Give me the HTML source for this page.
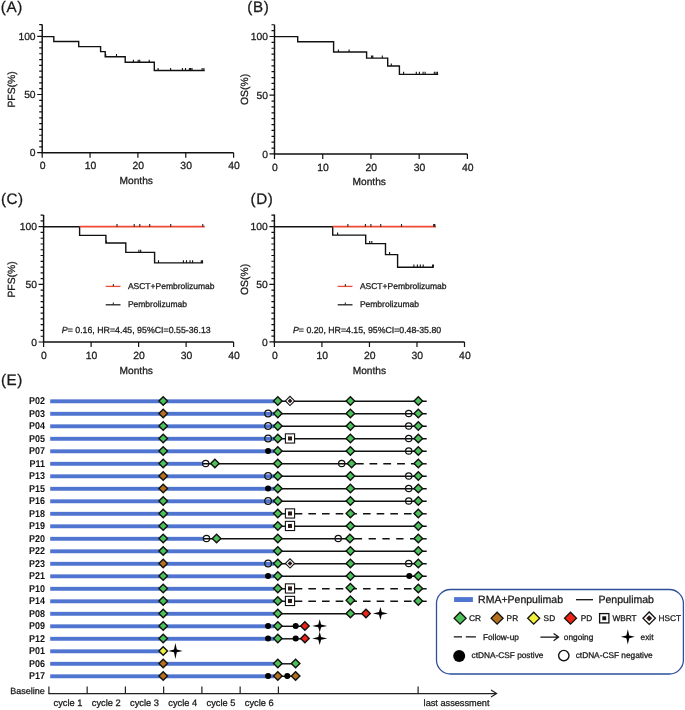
<!DOCTYPE html><html><head><meta charset="utf-8"><style>html,body{margin:0;padding:0;background:#fff;}svg{display:block;will-change:transform}</style></head><body>
<svg width="685" height="710" viewBox="0 0 685 710" font-family="Liberation Sans, sans-serif" fill="#1a1a1a" text-rendering="geometricPrecision"><style>text{stroke:#1a1a1a;stroke-width:0.28px}</style>
<rect width="685" height="710" fill="#fff"/>
<path d="M42.2 24.5V152.7H233.6" fill="none" stroke="#111" stroke-width="1.45"/><path d="M37.2 152.7H42.2M39.2 146.88H42.2M39.2 141.06H42.2M39.2 135.24H42.2M39.2 129.42H42.2M39.2 123.6H42.2M39.2 117.78H42.2M39.2 111.96H42.2M39.2 106.14H42.2M39.2 100.32H42.2M37.2 94.5H42.2M39.2 88.68H42.2M39.2 82.86H42.2M39.2 77.04H42.2M39.2 71.22H42.2M39.2 65.4H42.2M39.2 59.58H42.2M39.2 53.76H42.2M39.2 47.94H42.2M39.2 42.12H42.2M37.2 36.3H42.2M39.2 30.48H42.2M39.2 24.66H42.2M42.2 152.7V157.7M90.05 152.7V157.7M137.9 152.7V157.7M185.75 152.7V157.7M233.6 152.7V157.7" stroke="#111" stroke-width="1.2"/><text x="35.6" y="156.3" text-anchor="end" font-size="10.3">0</text><text x="35.6" y="98.1" text-anchor="end" font-size="10.3">50</text><text x="35.6" y="39.9" text-anchor="end" font-size="10.3">100</text><text x="42.6" y="169.3" text-anchor="middle" font-size="10.4">0</text><text x="90.45" y="169.3" text-anchor="middle" font-size="10.4">10</text><text x="138.3" y="169.3" text-anchor="middle" font-size="10.4">20</text><text x="186.15" y="169.3" text-anchor="middle" font-size="10.4">30</text><text x="234" y="169.3" text-anchor="middle" font-size="10.4">40</text><text x="0.8" y="11.8" font-size="15.2" letter-spacing="0.6">(A)</text><text transform="translate(14.5 89.4) rotate(-90)" text-anchor="middle" font-size="10.4">PFS(%)</text><text x="136.2" y="183.6" text-anchor="middle" font-size="10.2">Months</text>
<path d="M42.2 36.6L53.8 36.6L53.8 41.5L78.7 41.5L78.7 46.6L100.6 46.6L100.6 51.6L105.2 51.6L105.2 56.7L125.2 56.7L125.2 62.3L154.3 62.3L154.3 70.5L204.7 70.5" fill="none" stroke="#111" stroke-width="1.4"/>
<path d="M105.7 56.7V54.1M116.5 56.7V54.1M133.4 62.3V59.7M138.2 62.3V59.7M139.7 62.3V59.7M149.2 62.3V59.7M158.1 70.5V67.9M170.6 70.5V67.9M182.4 70.5V67.9M185.5 70.5V67.9M189.4 70.5V67.9M190.6 70.5V67.9M192 70.5V67.9M202.1 70.5V67.9M203.9 70.5V67.9" stroke="#111" stroke-width="1.1"/>
<path d="M274.5 24.8V153.9H467.4" fill="none" stroke="#111" stroke-width="1.45"/><path d="M269.5 153.9H274.5M271.5 148.03H274.5M271.5 142.16H274.5M271.5 136.29H274.5M271.5 130.42H274.5M271.5 124.55H274.5M271.5 118.68H274.5M271.5 112.81H274.5M271.5 106.94H274.5M271.5 101.07H274.5M269.5 95.2H274.5M271.5 89.33H274.5M271.5 83.46H274.5M271.5 77.59H274.5M271.5 71.72H274.5M271.5 65.85H274.5M271.5 59.98H274.5M271.5 54.11H274.5M271.5 48.24H274.5M271.5 42.37H274.5M269.5 36.5H274.5M271.5 30.63H274.5M271.5 24.76H274.5M274.5 153.9V158.9M322.73 153.9V158.9M370.95 153.9V158.9M419.17 153.9V158.9M467.4 153.9V158.9" stroke="#111" stroke-width="1.2"/><text x="267.9" y="157.5" text-anchor="end" font-size="10.3">0</text><text x="267.9" y="98.8" text-anchor="end" font-size="10.3">50</text><text x="267.9" y="40.1" text-anchor="end" font-size="10.3">100</text><text x="274.9" y="170.5" text-anchor="middle" font-size="10.4">0</text><text x="323.12" y="170.5" text-anchor="middle" font-size="10.4">10</text><text x="371.35" y="170.5" text-anchor="middle" font-size="10.4">20</text><text x="419.57" y="170.5" text-anchor="middle" font-size="10.4">30</text><text x="467.8" y="170.5" text-anchor="middle" font-size="10.4">40</text><text x="247.3" y="11.7" font-size="15.2" letter-spacing="0.6">(B)</text><text transform="translate(248.3 89.4) rotate(-90)" text-anchor="middle" font-size="10.4">OS(%)</text><text x="369.2" y="185.3" text-anchor="middle" font-size="10.2">Months</text>
<path d="M274.5 36.6L297.7 36.6L297.7 41.7L333.6 41.7L333.6 52L366.6 52L366.6 58.1L387.7 58.1L387.7 66L399.4 66L399.4 74.4L438.2 74.4" fill="none" stroke="#111" stroke-width="1.4"/>
<path d="M338.4 52V49.4M349.1 52V49.4M371.6 58.1V55.5M372.8 58.1V55.5M382.3 58.1V55.5M391.3 66V63.4M403.6 74.4V71.8M416.3 74.4V71.8M419.4 74.4V71.8M423.1 74.4V71.8M425.1 74.4V71.8M434.3 74.4V71.8M436 74.4V71.8M437.4 74.4V71.8" stroke="#111" stroke-width="1.1"/>
<path d="M43.6 215V342H233.6" fill="none" stroke="#111" stroke-width="1.45"/><path d="M38.6 342H43.6M40.6 336.24H43.6M40.6 330.47H43.6M40.6 324.7H43.6M40.6 318.94H43.6M40.6 313.18H43.6M40.6 307.41H43.6M40.6 301.64H43.6M40.6 295.88H43.6M40.6 290.12H43.6M38.6 284.35H43.6M40.6 278.58H43.6M40.6 272.82H43.6M40.6 267.06H43.6M40.6 261.29H43.6M40.6 255.52H43.6M40.6 249.76H43.6M40.6 244H43.6M40.6 238.23H43.6M40.6 232.47H43.6M38.6 226.7H43.6M40.6 220.94H43.6M40.6 215.17H43.6M43.6 342V347M91.1 342V347M138.6 342V347M186.1 342V347M233.6 342V347" stroke="#111" stroke-width="1.2"/><text x="37" y="345.6" text-anchor="end" font-size="10.3">0</text><text x="37" y="287.95" text-anchor="end" font-size="10.3">50</text><text x="37" y="230.3" text-anchor="end" font-size="10.3">100</text><text x="44" y="358.6" text-anchor="middle" font-size="10.4">0</text><text x="91.5" y="358.6" text-anchor="middle" font-size="10.4">10</text><text x="139" y="358.6" text-anchor="middle" font-size="10.4">20</text><text x="186.5" y="358.6" text-anchor="middle" font-size="10.4">30</text><text x="234" y="358.6" text-anchor="middle" font-size="10.4">40</text><text x="0.9" y="204" font-size="15.2" letter-spacing="0.6">(C)</text><text transform="translate(14.5 279.4) rotate(-90)" text-anchor="middle" font-size="10.4">PFS(%)</text><text x="136.2" y="373.8" text-anchor="middle" font-size="10.2">Months</text>
<path d="M43.6 226.7L79.6 226.7L79.6 235.4L105.9 235.4L105.9 243L125.8 243L125.8 252.4L154.6 252.4L154.6 262.9L203.1 262.9" fill="none" stroke="#111" stroke-width="1.4"/>
<path d="M79.6 226.7H204.8" stroke="#ee4a36" stroke-width="1.7"/>
<path d="M117 226.7V224.1M134.2 226.7V224.1M139.8 226.7V224.1M149.7 226.7V224.1M170.7 226.7V224.1M202.8 226.7V224.1" stroke="#222" stroke-width="1.1"/>
<path d="M106.4 243V240.4M138.9 252.4V249.8M140.7 252.4V249.8M158.5 262.9V260.3M183.4 262.9V260.3M186.5 262.9V260.3M190 262.9V260.3M192.6 262.9V260.3M201.3 262.9V260.3M202.5 262.9V260.3" stroke="#111" stroke-width="1.1"/>
<path d="M105.7 286.4H120.5" stroke="#ee4a36" stroke-width="1.3"/><path d="M113.3 286.4V284" stroke="#222" stroke-width="1"/>
<path d="M105.7 304.8H120.5" stroke="#222" stroke-width="1.3"/><path d="M113.3 304.8V302.4" stroke="#222" stroke-width="1"/>
<text x="127.9" y="288.6" font-size="8.5">ASCT+Pembrolizumab</text>
<text x="127.9" y="307.4" font-size="8.5">Pembrolizumab</text>
<text x="61.8" y="333.0" font-size="8.8"><tspan font-style="italic">P</tspan>= 0.16, HR=4.45, 95%CI=0.55-36.13</text>
<path d="M274.4 214.5V341.9H464.5" fill="none" stroke="#111" stroke-width="1.45"/><path d="M269.4 341.9H274.4M271.4 336.14H274.4M271.4 330.38H274.4M271.4 324.62H274.4M271.4 318.86H274.4M271.4 313.1H274.4M271.4 307.34H274.4M271.4 301.58H274.4M271.4 295.82H274.4M271.4 290.06H274.4M269.4 284.3H274.4M271.4 278.54H274.4M271.4 272.78H274.4M271.4 267.02H274.4M271.4 261.26H274.4M271.4 255.5H274.4M271.4 249.74H274.4M271.4 243.98H274.4M271.4 238.22H274.4M271.4 232.46H274.4M269.4 226.7H274.4M271.4 220.94H274.4M271.4 215.18H274.4M274.4 341.9V346.9M321.92 341.9V346.9M369.45 341.9V346.9M416.98 341.9V346.9M464.5 341.9V346.9" stroke="#111" stroke-width="1.2"/><text x="267.8" y="345.5" text-anchor="end" font-size="10.3">0</text><text x="267.8" y="287.9" text-anchor="end" font-size="10.3">50</text><text x="267.8" y="230.3" text-anchor="end" font-size="10.3">100</text><text x="274.8" y="358.5" text-anchor="middle" font-size="10.4">0</text><text x="322.32" y="358.5" text-anchor="middle" font-size="10.4">10</text><text x="369.85" y="358.5" text-anchor="middle" font-size="10.4">20</text><text x="417.38" y="358.5" text-anchor="middle" font-size="10.4">30</text><text x="464.9" y="358.5" text-anchor="middle" font-size="10.4">40</text><text x="250.5" y="203.7" font-size="15.2" letter-spacing="0.6">(D)</text><text transform="translate(248.3 279.4) rotate(-90)" text-anchor="middle" font-size="10.4">OS(%)</text><text x="369.4" y="373.8" text-anchor="middle" font-size="10.2">Months</text>
<path d="M274.4 226.7L332.7 226.7L332.7 235.1L365.7 235.1L365.7 243.6L385.5 243.6L385.5 254.6L397.6 254.6L397.6 267.2L433.7 267.2" fill="none" stroke="#111" stroke-width="1.4"/>
<path d="M332.7 226.7H436" stroke="#ee4a36" stroke-width="1.7"/>
<path d="M347.9 226.7V224.1M365.4 226.7V224.1M370.9 226.7V224.1M380.7 226.7V224.1M401.5 226.7V224.1M433.7 226.7V224.1M434.8 226.7V224.1" stroke="#222" stroke-width="1.1"/>
<path d="M337.6 235.1V232.5M369.7 243.6V241M371.8 243.6V241M389.6 254.6V252M413.9 267.2V264.6M417.4 267.2V264.6M420.3 267.2V264.6M423.2 267.2V264.6M432.6 267.2V264.6M433.4 267.2V264.6" stroke="#111" stroke-width="1.1"/>
<path d="M337.7 286.4H352.5" stroke="#ee4a36" stroke-width="1.3"/><path d="M345.3 286.4V284" stroke="#222" stroke-width="1"/>
<path d="M337.7 304.8H352.5" stroke="#222" stroke-width="1.3"/><path d="M345.3 304.8V302.4" stroke="#222" stroke-width="1"/>
<text x="359.9" y="288.6" font-size="8.5">ASCT+Pembrolizumab</text>
<text x="359.9" y="307.4" font-size="8.5">Pembrolizumab</text>
<text x="293.0" y="333.0" font-size="8.75"><tspan font-style="italic">P</tspan>= 0.20, HR=4.15, 95%CI=0.48-35.80</text>
<text x="0.9" y="384.6" font-size="15.2" letter-spacing="0.6">(E)</text>
<text transform="translate(45.1 404.4) scale(0.91 1)" text-anchor="end" font-size="9.9" font-weight="bold" fill="#111" style="stroke:none">P02</text><text transform="translate(45.1 416.9) scale(0.91 1)" text-anchor="end" font-size="9.9" font-weight="bold" fill="#111" style="stroke:none">P03</text><text transform="translate(45.1 429.4) scale(0.91 1)" text-anchor="end" font-size="9.9" font-weight="bold" fill="#111" style="stroke:none">P04</text><text transform="translate(45.1 441.9) scale(0.91 1)" text-anchor="end" font-size="9.9" font-weight="bold" fill="#111" style="stroke:none">P05</text><text transform="translate(45.1 454.4) scale(0.91 1)" text-anchor="end" font-size="9.9" font-weight="bold" fill="#111" style="stroke:none">P07</text><text transform="translate(45.1 466.9) scale(0.91 1)" text-anchor="end" font-size="9.9" font-weight="bold" fill="#111" style="stroke:none">P11</text><text transform="translate(45.1 479.4) scale(0.91 1)" text-anchor="end" font-size="9.9" font-weight="bold" fill="#111" style="stroke:none">P13</text><text transform="translate(45.1 491.9) scale(0.91 1)" text-anchor="end" font-size="9.9" font-weight="bold" fill="#111" style="stroke:none">P15</text><text transform="translate(45.1 504.4) scale(0.91 1)" text-anchor="end" font-size="9.9" font-weight="bold" fill="#111" style="stroke:none">P16</text><text transform="translate(45.1 516.9) scale(0.91 1)" text-anchor="end" font-size="9.9" font-weight="bold" fill="#111" style="stroke:none">P18</text><text transform="translate(45.1 529.4) scale(0.91 1)" text-anchor="end" font-size="9.9" font-weight="bold" fill="#111" style="stroke:none">P19</text><text transform="translate(45.1 541.9) scale(0.91 1)" text-anchor="end" font-size="9.9" font-weight="bold" fill="#111" style="stroke:none">P20</text><text transform="translate(45.1 554.4) scale(0.91 1)" text-anchor="end" font-size="9.9" font-weight="bold" fill="#111" style="stroke:none">P22</text><text transform="translate(45.1 566.9) scale(0.91 1)" text-anchor="end" font-size="9.9" font-weight="bold" fill="#111" style="stroke:none">P23</text><text transform="translate(45.1 579.4) scale(0.91 1)" text-anchor="end" font-size="9.9" font-weight="bold" fill="#111" style="stroke:none">P21</text><text transform="translate(45.1 591.9) scale(0.91 1)" text-anchor="end" font-size="9.9" font-weight="bold" fill="#111" style="stroke:none">P10</text><text transform="translate(45.1 604.4) scale(0.91 1)" text-anchor="end" font-size="9.9" font-weight="bold" fill="#111" style="stroke:none">P14</text><text transform="translate(45.1 616.9) scale(0.91 1)" text-anchor="end" font-size="9.9" font-weight="bold" fill="#111" style="stroke:none">P08</text><text transform="translate(45.1 629.4) scale(0.91 1)" text-anchor="end" font-size="9.9" font-weight="bold" fill="#111" style="stroke:none">P09</text><text transform="translate(45.1 641.9) scale(0.91 1)" text-anchor="end" font-size="9.9" font-weight="bold" fill="#111" style="stroke:none">P12</text><text transform="translate(45.1 654.4) scale(0.91 1)" text-anchor="end" font-size="9.9" font-weight="bold" fill="#111" style="stroke:none">P01</text><text transform="translate(45.1 666.9) scale(0.91 1)" text-anchor="end" font-size="9.9" font-weight="bold" fill="#111" style="stroke:none">P06</text><text transform="translate(45.1 679.4) scale(0.91 1)" text-anchor="end" font-size="9.9" font-weight="bold" fill="#111" style="stroke:none">P17</text>
<rect x="50.2" y="399.35" width="223.8" height="3.9" fill="#4f75d0"/><path d="M274 401.3H426.7" stroke="#111" stroke-width="1.45"/><rect x="50.2" y="411.85" width="223.8" height="3.9" fill="#4f75d0"/><path d="M274 413.8H426.7" stroke="#111" stroke-width="1.45"/><rect x="50.2" y="424.35" width="223.8" height="3.9" fill="#4f75d0"/><path d="M274 426.3H426.7" stroke="#111" stroke-width="1.45"/><rect x="50.2" y="436.85" width="223.8" height="3.9" fill="#4f75d0"/><path d="M274 438.8H426.7" stroke="#111" stroke-width="1.45"/><rect x="50.2" y="449.35" width="223.8" height="3.9" fill="#4f75d0"/><path d="M274 451.3H426.7" stroke="#111" stroke-width="1.45"/><rect x="50.2" y="461.85" width="152.8" height="3.9" fill="#4f75d0"/><path d="M203 463.8H363.7" stroke="#111" stroke-width="1.45"/><path d="M369.5 463.8H377.3M383.3 463.8H391.1M397.1 463.8H404.9M410.9 463.8H414" stroke="#111" stroke-width="1.45"/><path d="M414 463.8H426.7" stroke="#111" stroke-width="1.45"/><rect x="50.2" y="474.35" width="223.8" height="3.9" fill="#4f75d0"/><path d="M274 476.3H426.7" stroke="#111" stroke-width="1.45"/><rect x="50.2" y="486.85" width="223.8" height="3.9" fill="#4f75d0"/><path d="M274 488.8H426.7" stroke="#111" stroke-width="1.45"/><rect x="50.2" y="499.35" width="223.8" height="3.9" fill="#4f75d0"/><path d="M274 501.3H426.7" stroke="#111" stroke-width="1.45"/><rect x="50.2" y="511.85" width="223.8" height="3.9" fill="#4f75d0"/><path d="M274 513.8H290" stroke="#111" stroke-width="1.45"/><path d="M294.7 513.8H302.3M308.36 513.8H315.96M322.02 513.8H329.62M335.68 513.8H343.28M349.34 513.8H356.94M363 513.8H370.6M376.66 513.8H384.26M390.32 513.8H397.92M403.98 513.8H411.58" stroke="#111" stroke-width="1.45"/><path d="M414 513.8H426.7" stroke="#111" stroke-width="1.45"/><rect x="50.2" y="524.35" width="223.8" height="3.9" fill="#4f75d0"/><path d="M274 526.3H290" stroke="#111" stroke-width="1.45"/><path d="M290 526.3H426.7" stroke="#111" stroke-width="1.45"/><rect x="50.2" y="536.85" width="153.8" height="3.9" fill="#4f75d0"/><path d="M204 538.8H362.1" stroke="#111" stroke-width="1.45"/><path d="M368.6 538.8H375.9M382.4 538.8H389.7M396.2 538.8H403.5M410 538.8H414" stroke="#111" stroke-width="1.45"/><path d="M414 538.8H426.7" stroke="#111" stroke-width="1.45"/><rect x="50.2" y="549.35" width="223.8" height="3.9" fill="#4f75d0"/><path d="M274 551.3H426.7" stroke="#111" stroke-width="1.45"/><rect x="50.2" y="561.85" width="223.8" height="3.9" fill="#4f75d0"/><path d="M274 563.8H426.7" stroke="#111" stroke-width="1.45"/><rect x="50.2" y="574.35" width="223.8" height="3.9" fill="#4f75d0"/><path d="M274 576.3H426.7" stroke="#111" stroke-width="1.45"/><rect x="50.2" y="586.85" width="223.8" height="3.9" fill="#4f75d0"/><path d="M274 588.8H290" stroke="#111" stroke-width="1.45"/><path d="M294.7 588.8H302.3M308.36 588.8H315.96M322.02 588.8H329.62M335.68 588.8H343.28M349.34 588.8H356.94M363 588.8H370.6M376.66 588.8H384.26M390.32 588.8H397.92M403.98 588.8H411.58" stroke="#111" stroke-width="1.45"/><path d="M414 588.8H426.7" stroke="#111" stroke-width="1.45"/><rect x="50.2" y="599.35" width="223.8" height="3.9" fill="#4f75d0"/><path d="M274 601.3H290" stroke="#111" stroke-width="1.45"/><path d="M294.7 601.3H302.3M308.36 601.3H315.96M322.02 601.3H329.62M335.68 601.3H343.28M349.34 601.3H356.94M363 601.3H370.6M376.66 601.3H384.26M390.32 601.3H397.92M403.98 601.3H411.58" stroke="#111" stroke-width="1.45"/><path d="M414 601.3H426.7" stroke="#111" stroke-width="1.45"/><rect x="50.2" y="611.85" width="223.8" height="3.9" fill="#4f75d0"/><path d="M274 613.8H366" stroke="#111" stroke-width="1.45"/><rect x="50.2" y="624.35" width="223.8" height="3.9" fill="#4f75d0"/><path d="M274 626.3H305" stroke="#111" stroke-width="1.45"/><rect x="50.2" y="636.85" width="223.8" height="3.9" fill="#4f75d0"/><path d="M274 638.8H305" stroke="#111" stroke-width="1.45"/><rect x="50.2" y="649.35" width="114.8" height="3.9" fill="#4f75d0"/><rect x="50.2" y="661.85" width="223.8" height="3.9" fill="#4f75d0"/><path d="M274 663.8H295.6" stroke="#111" stroke-width="1.45"/><rect x="50.2" y="674.35" width="223.8" height="3.9" fill="#4f75d0"/><path d="M274 676.3H295.6" stroke="#111" stroke-width="1.45"/>
<path d="M158.9 400.95l4.3 -4.3l4.3 4.3l-4.3 4.3z" fill="#4cc15a" stroke="#111" stroke-width="1.4" stroke-linejoin="miter"/><path d="M158.9 413.45l4.3 -4.3l4.3 4.3l-4.3 4.3z" fill="#b5701f" stroke="#111" stroke-width="1.4" stroke-linejoin="miter"/><path d="M158.9 425.95l4.3 -4.3l4.3 4.3l-4.3 4.3z" fill="#4cc15a" stroke="#111" stroke-width="1.4" stroke-linejoin="miter"/><path d="M158.9 438.45l4.3 -4.3l4.3 4.3l-4.3 4.3z" fill="#4cc15a" stroke="#111" stroke-width="1.4" stroke-linejoin="miter"/><path d="M158.9 450.95l4.3 -4.3l4.3 4.3l-4.3 4.3z" fill="#4cc15a" stroke="#111" stroke-width="1.4" stroke-linejoin="miter"/><path d="M158.9 463.45l4.3 -4.3l4.3 4.3l-4.3 4.3z" fill="#4cc15a" stroke="#111" stroke-width="1.4" stroke-linejoin="miter"/><path d="M158.9 475.95l4.3 -4.3l4.3 4.3l-4.3 4.3z" fill="#b5701f" stroke="#111" stroke-width="1.4" stroke-linejoin="miter"/><path d="M158.9 488.45l4.3 -4.3l4.3 4.3l-4.3 4.3z" fill="#b5701f" stroke="#111" stroke-width="1.4" stroke-linejoin="miter"/><path d="M158.9 500.95l4.3 -4.3l4.3 4.3l-4.3 4.3z" fill="#4cc15a" stroke="#111" stroke-width="1.4" stroke-linejoin="miter"/><path d="M158.9 513.45l4.3 -4.3l4.3 4.3l-4.3 4.3z" fill="#4cc15a" stroke="#111" stroke-width="1.4" stroke-linejoin="miter"/><path d="M158.9 525.95l4.3 -4.3l4.3 4.3l-4.3 4.3z" fill="#4cc15a" stroke="#111" stroke-width="1.4" stroke-linejoin="miter"/><path d="M158.9 538.45l4.3 -4.3l4.3 4.3l-4.3 4.3z" fill="#4cc15a" stroke="#111" stroke-width="1.4" stroke-linejoin="miter"/><path d="M158.9 550.95l4.3 -4.3l4.3 4.3l-4.3 4.3z" fill="#4cc15a" stroke="#111" stroke-width="1.4" stroke-linejoin="miter"/><path d="M158.9 563.45l4.3 -4.3l4.3 4.3l-4.3 4.3z" fill="#b5701f" stroke="#111" stroke-width="1.4" stroke-linejoin="miter"/><path d="M158.9 575.95l4.3 -4.3l4.3 4.3l-4.3 4.3z" fill="#4cc15a" stroke="#111" stroke-width="1.4" stroke-linejoin="miter"/><path d="M158.9 588.45l4.3 -4.3l4.3 4.3l-4.3 4.3z" fill="#4cc15a" stroke="#111" stroke-width="1.4" stroke-linejoin="miter"/><path d="M158.9 600.95l4.3 -4.3l4.3 4.3l-4.3 4.3z" fill="#4cc15a" stroke="#111" stroke-width="1.4" stroke-linejoin="miter"/><path d="M158.9 613.45l4.3 -4.3l4.3 4.3l-4.3 4.3z" fill="#4cc15a" stroke="#111" stroke-width="1.4" stroke-linejoin="miter"/><path d="M158.9 625.95l4.3 -4.3l4.3 4.3l-4.3 4.3z" fill="#4cc15a" stroke="#111" stroke-width="1.4" stroke-linejoin="miter"/><path d="M158.9 638.45l4.3 -4.3l4.3 4.3l-4.3 4.3z" fill="#4cc15a" stroke="#111" stroke-width="1.4" stroke-linejoin="miter"/><path d="M158.9 650.95l4.3 -4.3l4.3 4.3l-4.3 4.3z" fill="#f2f03c" stroke="#111" stroke-width="1.4" stroke-linejoin="miter"/><path d="M158.9 663.45l4.3 -4.3l4.3 4.3l-4.3 4.3z" fill="#b5701f" stroke="#111" stroke-width="1.4" stroke-linejoin="miter"/><path d="M158.9 675.95l4.3 -4.3l4.3 4.3l-4.3 4.3z" fill="#b5701f" stroke="#111" stroke-width="1.4" stroke-linejoin="miter"/>
<circle cx="268.1" cy="413.45" r="3.35" fill="none" stroke="#111" stroke-width="1.2"/><circle cx="268.1" cy="425.95" r="3.35" fill="none" stroke="#111" stroke-width="1.2"/><circle cx="268.1" cy="438.45" r="3.35" fill="none" stroke="#111" stroke-width="1.2"/><circle cx="268.1" cy="475.95" r="3.35" fill="none" stroke="#111" stroke-width="1.2"/><circle cx="268.1" cy="500.95" r="3.35" fill="none" stroke="#111" stroke-width="1.2"/><circle cx="268.1" cy="563.45" r="3.35" fill="none" stroke="#111" stroke-width="1.2"/><circle cx="268.1" cy="450.95" r="3.05" fill="#000"/><circle cx="268.1" cy="488.45" r="3.05" fill="#000"/><circle cx="268.1" cy="575.95" r="3.05" fill="#000"/><circle cx="268.1" cy="625.95" r="3.05" fill="#000"/><circle cx="268.1" cy="638.45" r="3.05" fill="#000"/><circle cx="268.1" cy="675.95" r="3.05" fill="#000"/><path d="M273.5 400.95l4.3 -4.3l4.3 4.3l-4.3 4.3z" fill="#4cc15a" stroke="#111" stroke-width="1.4" stroke-linejoin="miter"/><path d="M285.4 400.95l4.6 -4.6l4.6 4.6l-4.6 4.6z" fill="#fff" stroke="#111" stroke-width="1.1" stroke-linejoin="miter"/><path d="M287.6 400.95l2.4 -2.4l2.4 2.4l-2.4 2.4z" fill="#2a1a18"/><path d="M346.1 400.95l4.3 -4.3l4.3 4.3l-4.3 4.3z" fill="#4cc15a" stroke="#111" stroke-width="1.4" stroke-linejoin="miter"/><path d="M414 400.95l4.3 -4.3l4.3 4.3l-4.3 4.3z" fill="#4cc15a" stroke="#111" stroke-width="1.4" stroke-linejoin="miter"/><path d="M273.5 413.45l4.3 -4.3l4.3 4.3l-4.3 4.3z" fill="#4cc15a" stroke="#111" stroke-width="1.4" stroke-linejoin="miter"/><path d="M346.1 413.45l4.3 -4.3l4.3 4.3l-4.3 4.3z" fill="#4cc15a" stroke="#111" stroke-width="1.4" stroke-linejoin="miter"/><circle cx="408.7" cy="413.45" r="3.15" fill="none" stroke="#111" stroke-width="1.2"/><path d="M414 413.45l4.3 -4.3l4.3 4.3l-4.3 4.3z" fill="#4cc15a" stroke="#111" stroke-width="1.4" stroke-linejoin="miter"/><path d="M273.5 425.95l4.3 -4.3l4.3 4.3l-4.3 4.3z" fill="#4cc15a" stroke="#111" stroke-width="1.4" stroke-linejoin="miter"/><path d="M346.1 425.95l4.3 -4.3l4.3 4.3l-4.3 4.3z" fill="#4cc15a" stroke="#111" stroke-width="1.4" stroke-linejoin="miter"/><circle cx="408.7" cy="425.95" r="3.15" fill="none" stroke="#111" stroke-width="1.2"/><path d="M414 425.95l4.3 -4.3l4.3 4.3l-4.3 4.3z" fill="#4cc15a" stroke="#111" stroke-width="1.4" stroke-linejoin="miter"/><path d="M273.5 438.45l4.3 -4.3l4.3 4.3l-4.3 4.3z" fill="#4cc15a" stroke="#111" stroke-width="1.4" stroke-linejoin="miter"/><rect x="285.4" y="433.85" width="9.2" height="9.2" fill="#fff" stroke="#111" stroke-width="1.1"/><rect x="288" y="436.45" width="4" height="4" fill="#2a1a18"/><path d="M346.1 438.45l4.3 -4.3l4.3 4.3l-4.3 4.3z" fill="#4cc15a" stroke="#111" stroke-width="1.4" stroke-linejoin="miter"/><circle cx="408.7" cy="438.45" r="3.15" fill="none" stroke="#111" stroke-width="1.2"/><path d="M414 438.45l4.3 -4.3l4.3 4.3l-4.3 4.3z" fill="#4cc15a" stroke="#111" stroke-width="1.4" stroke-linejoin="miter"/><path d="M273.5 450.95l4.3 -4.3l4.3 4.3l-4.3 4.3z" fill="#4cc15a" stroke="#111" stroke-width="1.4" stroke-linejoin="miter"/><path d="M346.1 450.95l4.3 -4.3l4.3 4.3l-4.3 4.3z" fill="#4cc15a" stroke="#111" stroke-width="1.4" stroke-linejoin="miter"/><circle cx="408.7" cy="450.95" r="3.15" fill="none" stroke="#111" stroke-width="1.2"/><path d="M414 450.95l4.3 -4.3l4.3 4.3l-4.3 4.3z" fill="#4cc15a" stroke="#111" stroke-width="1.4" stroke-linejoin="miter"/><circle cx="205.7" cy="463.45" r="3.15" fill="none" stroke="#111" stroke-width="1.2"/><path d="M210.6 463.45l4.3 -4.3l4.3 4.3l-4.3 4.3z" fill="#4cc15a" stroke="#111" stroke-width="1.4" stroke-linejoin="miter"/><path d="M273.5 463.45l4.3 -4.3l4.3 4.3l-4.3 4.3z" fill="#4cc15a" stroke="#111" stroke-width="1.4" stroke-linejoin="miter"/><circle cx="341.7" cy="463.45" r="3.15" fill="none" stroke="#111" stroke-width="1.2"/><path d="M347.3 463.45l4.3 -4.3l4.3 4.3l-4.3 4.3z" fill="#4cc15a" stroke="#111" stroke-width="1.4" stroke-linejoin="miter"/><path d="M414 463.45l4.3 -4.3l4.3 4.3l-4.3 4.3z" fill="#4cc15a" stroke="#111" stroke-width="1.4" stroke-linejoin="miter"/><path d="M273.5 475.95l4.3 -4.3l4.3 4.3l-4.3 4.3z" fill="#4cc15a" stroke="#111" stroke-width="1.4" stroke-linejoin="miter"/><path d="M346.1 475.95l4.3 -4.3l4.3 4.3l-4.3 4.3z" fill="#4cc15a" stroke="#111" stroke-width="1.4" stroke-linejoin="miter"/><circle cx="408.7" cy="475.95" r="3.15" fill="none" stroke="#111" stroke-width="1.2"/><path d="M414 475.95l4.3 -4.3l4.3 4.3l-4.3 4.3z" fill="#4cc15a" stroke="#111" stroke-width="1.4" stroke-linejoin="miter"/><path d="M273.5 488.45l4.3 -4.3l4.3 4.3l-4.3 4.3z" fill="#4cc15a" stroke="#111" stroke-width="1.4" stroke-linejoin="miter"/><path d="M346.1 488.45l4.3 -4.3l4.3 4.3l-4.3 4.3z" fill="#4cc15a" stroke="#111" stroke-width="1.4" stroke-linejoin="miter"/><circle cx="408.7" cy="488.45" r="3.15" fill="none" stroke="#111" stroke-width="1.2"/><path d="M414 488.45l4.3 -4.3l4.3 4.3l-4.3 4.3z" fill="#4cc15a" stroke="#111" stroke-width="1.4" stroke-linejoin="miter"/><path d="M273.5 500.95l4.3 -4.3l4.3 4.3l-4.3 4.3z" fill="#4cc15a" stroke="#111" stroke-width="1.4" stroke-linejoin="miter"/><path d="M346.1 500.95l4.3 -4.3l4.3 4.3l-4.3 4.3z" fill="#4cc15a" stroke="#111" stroke-width="1.4" stroke-linejoin="miter"/><circle cx="408.7" cy="500.95" r="3.15" fill="none" stroke="#111" stroke-width="1.2"/><path d="M414 500.95l4.3 -4.3l4.3 4.3l-4.3 4.3z" fill="#4cc15a" stroke="#111" stroke-width="1.4" stroke-linejoin="miter"/><path d="M273.5 513.45l4.3 -4.3l4.3 4.3l-4.3 4.3z" fill="#4cc15a" stroke="#111" stroke-width="1.4" stroke-linejoin="miter"/><rect x="285.4" y="508.85" width="9.2" height="9.2" fill="#fff" stroke="#111" stroke-width="1.1"/><rect x="288" y="511.45" width="4" height="4" fill="#2a1a18"/><path d="M346.1 513.45l4.3 -4.3l4.3 4.3l-4.3 4.3z" fill="#4cc15a" stroke="#111" stroke-width="1.4" stroke-linejoin="miter"/><path d="M414 513.45l4.3 -4.3l4.3 4.3l-4.3 4.3z" fill="#4cc15a" stroke="#111" stroke-width="1.4" stroke-linejoin="miter"/><path d="M273.5 525.95l4.3 -4.3l4.3 4.3l-4.3 4.3z" fill="#4cc15a" stroke="#111" stroke-width="1.4" stroke-linejoin="miter"/><rect x="285.4" y="521.35" width="9.2" height="9.2" fill="#fff" stroke="#111" stroke-width="1.1"/><rect x="288" y="523.95" width="4" height="4" fill="#2a1a18"/><path d="M346.1 525.95l4.3 -4.3l4.3 4.3l-4.3 4.3z" fill="#4cc15a" stroke="#111" stroke-width="1.4" stroke-linejoin="miter"/><path d="M414 525.95l4.3 -4.3l4.3 4.3l-4.3 4.3z" fill="#4cc15a" stroke="#111" stroke-width="1.4" stroke-linejoin="miter"/><circle cx="206.5" cy="538.45" r="3.15" fill="none" stroke="#111" stroke-width="1.2"/><path d="M212.3 538.45l4.3 -4.3l4.3 4.3l-4.3 4.3z" fill="#4cc15a" stroke="#111" stroke-width="1.4" stroke-linejoin="miter"/><path d="M273.5 538.45l4.3 -4.3l4.3 4.3l-4.3 4.3z" fill="#4cc15a" stroke="#111" stroke-width="1.4" stroke-linejoin="miter"/><circle cx="338.2" cy="538.45" r="3.15" fill="none" stroke="#111" stroke-width="1.2"/><path d="M345.6 538.45l4.3 -4.3l4.3 4.3l-4.3 4.3z" fill="#4cc15a" stroke="#111" stroke-width="1.4" stroke-linejoin="miter"/><path d="M414 538.45l4.3 -4.3l4.3 4.3l-4.3 4.3z" fill="#4cc15a" stroke="#111" stroke-width="1.4" stroke-linejoin="miter"/><path d="M273.5 550.95l4.3 -4.3l4.3 4.3l-4.3 4.3z" fill="#4cc15a" stroke="#111" stroke-width="1.4" stroke-linejoin="miter"/><path d="M346.1 550.95l4.3 -4.3l4.3 4.3l-4.3 4.3z" fill="#4cc15a" stroke="#111" stroke-width="1.4" stroke-linejoin="miter"/><path d="M414 550.95l4.3 -4.3l4.3 4.3l-4.3 4.3z" fill="#4cc15a" stroke="#111" stroke-width="1.4" stroke-linejoin="miter"/><path d="M273.5 563.45l4.3 -4.3l4.3 4.3l-4.3 4.3z" fill="#4cc15a" stroke="#111" stroke-width="1.4" stroke-linejoin="miter"/><path d="M285.4 563.45l4.6 -4.6l4.6 4.6l-4.6 4.6z" fill="#fff" stroke="#111" stroke-width="1.1" stroke-linejoin="miter"/><path d="M287.6 563.45l2.4 -2.4l2.4 2.4l-2.4 2.4z" fill="#2a1a18"/><path d="M346.1 563.45l4.3 -4.3l4.3 4.3l-4.3 4.3z" fill="#4cc15a" stroke="#111" stroke-width="1.4" stroke-linejoin="miter"/><circle cx="408.7" cy="563.45" r="3.15" fill="none" stroke="#111" stroke-width="1.2"/><path d="M414 563.45l4.3 -4.3l4.3 4.3l-4.3 4.3z" fill="#4cc15a" stroke="#111" stroke-width="1.4" stroke-linejoin="miter"/><path d="M273.5 575.95l4.3 -4.3l4.3 4.3l-4.3 4.3z" fill="#4cc15a" stroke="#111" stroke-width="1.4" stroke-linejoin="miter"/><path d="M346.1 575.95l4.3 -4.3l4.3 4.3l-4.3 4.3z" fill="#4cc15a" stroke="#111" stroke-width="1.4" stroke-linejoin="miter"/><circle cx="409.3" cy="575.95" r="3.05" fill="#000"/><path d="M414 575.95l4.3 -4.3l4.3 4.3l-4.3 4.3z" fill="#4cc15a" stroke="#111" stroke-width="1.4" stroke-linejoin="miter"/><path d="M273.5 588.45l4.3 -4.3l4.3 4.3l-4.3 4.3z" fill="#4cc15a" stroke="#111" stroke-width="1.4" stroke-linejoin="miter"/><rect x="285.4" y="583.85" width="9.2" height="9.2" fill="#fff" stroke="#111" stroke-width="1.1"/><rect x="288" y="586.45" width="4" height="4" fill="#2a1a18"/><path d="M346.1 587.85l4.3 -4.3l4.3 4.3l-4.3 4.3z" fill="#4cc15a" stroke="#111" stroke-width="1.4" stroke-linejoin="miter"/><path d="M414 588.45l4.3 -4.3l4.3 4.3l-4.3 4.3z" fill="#4cc15a" stroke="#111" stroke-width="1.4" stroke-linejoin="miter"/><path d="M273.5 600.95l4.3 -4.3l4.3 4.3l-4.3 4.3z" fill="#4cc15a" stroke="#111" stroke-width="1.4" stroke-linejoin="miter"/><rect x="285.4" y="596.35" width="9.2" height="9.2" fill="#fff" stroke="#111" stroke-width="1.1"/><rect x="288" y="598.95" width="4" height="4" fill="#2a1a18"/><path d="M346.1 600.35l4.3 -4.3l4.3 4.3l-4.3 4.3z" fill="#4cc15a" stroke="#111" stroke-width="1.4" stroke-linejoin="miter"/><path d="M414 600.95l4.3 -4.3l4.3 4.3l-4.3 4.3z" fill="#4cc15a" stroke="#111" stroke-width="1.4" stroke-linejoin="miter"/><path d="M273.5 613.45l4.3 -4.3l4.3 4.3l-4.3 4.3z" fill="#4cc15a" stroke="#111" stroke-width="1.4" stroke-linejoin="miter"/><path d="M346.1 613.45l4.3 -4.3l4.3 4.3l-4.3 4.3z" fill="#4cc15a" stroke="#111" stroke-width="1.4" stroke-linejoin="miter"/><path d="M361.7 613.45l4.3 -4.3l4.3 4.3l-4.3 4.3z" fill="#ee2416" stroke="#111" stroke-width="1.4" stroke-linejoin="miter"/><path d="M380.4 606.95L381.8 612.05L387.9 613.45L381.8 614.85L380.4 619.95L379 614.85L372.9 613.45L379 612.05z" fill="#000"/><path d="M273.5 625.95l4.3 -4.3l4.3 4.3l-4.3 4.3z" fill="#4cc15a" stroke="#111" stroke-width="1.4" stroke-linejoin="miter"/><circle cx="295.7" cy="625.95" r="3.05" fill="#000"/><path d="M300.6 625.95l4.3 -4.3l4.3 4.3l-4.3 4.3z" fill="#ee2416" stroke="#111" stroke-width="1.4" stroke-linejoin="miter"/><path d="M319.7 619.35L321.1 624.55L327.2 625.95L321.1 627.35L319.7 632.55L318.3 627.35L312.2 625.95L318.3 624.55z" fill="#000"/><path d="M273.5 638.45l4.3 -4.3l4.3 4.3l-4.3 4.3z" fill="#4cc15a" stroke="#111" stroke-width="1.4" stroke-linejoin="miter"/><circle cx="295.7" cy="638.45" r="3.05" fill="#000"/><path d="M300.6 638.45l4.3 -4.3l4.3 4.3l-4.3 4.3z" fill="#ee2416" stroke="#111" stroke-width="1.4" stroke-linejoin="miter"/><path d="M319.7 631.85L321.1 637.05L327.2 638.45L321.1 639.85L319.7 645.05L318.3 639.85L312.2 638.45L318.3 637.05z" fill="#000"/><path d="M175.4 642.95L176.8 649.55L182.6 650.95L176.8 652.35L175.4 658.95L174 652.35L168.2 650.95L174 649.55z" fill="#000"/><path d="M273.5 663.45l4.3 -4.3l4.3 4.3l-4.3 4.3z" fill="#4cc15a" stroke="#111" stroke-width="1.4" stroke-linejoin="miter"/><path d="M291.3 663.45l4.3 -4.3l4.3 4.3l-4.3 4.3z" fill="#4cc15a" stroke="#111" stroke-width="1.4" stroke-linejoin="miter"/><path d="M273.5 675.95l4.3 -4.3l4.3 4.3l-4.3 4.3z" fill="#b5701f" stroke="#111" stroke-width="1.4" stroke-linejoin="miter"/><circle cx="287.3" cy="675.95" r="3.05" fill="#000"/><path d="M291.3 675.95l4.3 -4.3l4.3 4.3l-4.3 4.3z" fill="#b5701f" stroke="#111" stroke-width="1.4" stroke-linejoin="miter"/>
<path d="M48.3 693.5H496" fill="none" stroke="#222" stroke-width="1.25"/><path d="M491 690L496.6 693.5L491 697" fill="none" stroke="#222" stroke-width="1.2"/><path d="M48.9 693.5V686.6M87.15 693.5V686.6M125.4 693.5V686.6M163.65 693.5V686.6M201.9 693.5V686.6M240.15 693.5V686.6M278.4 693.5V686.6M418.1 693.5V686.6" stroke="#222" stroke-width="1.2"/><text x="44.8" y="694.3" text-anchor="end" font-size="9">Baseline</text><text x="68.03" y="706.3" text-anchor="middle" font-size="9.3">cycle 1</text><text x="106.28" y="706.3" text-anchor="middle" font-size="9.3">cycle 2</text><text x="144.53" y="706.3" text-anchor="middle" font-size="9.3">cycle 3</text><text x="182.78" y="706.3" text-anchor="middle" font-size="9.3">cycle 4</text><text x="221.03" y="706.3" text-anchor="middle" font-size="9.3">cycle 5</text><text x="259.27" y="706.3" text-anchor="middle" font-size="9.3">cycle 6</text><text x="423.6" y="706.3" font-size="9.2">last assessment</text>
<rect x="436.5" y="589.5" width="246.9" height="84.5" rx="14" ry="14" fill="none" stroke="#2f4f9c" stroke-width="1.3"/><rect x="454.1" y="597.1" width="18.8" height="4.9" fill="#4f75d0"/><text x="478.1" y="603.3" font-size="10.5">RMA+Penpulimab</text><path d="M576 599.7H593" stroke="#111" stroke-width="1.3"/><text x="598.5" y="603.3" font-size="10.5">Penpulimab</text><path d="M454.1 618.2l6 -6l6 6l-6 6z" fill="#4cc15a" stroke="#111" stroke-width="1.3" stroke-linejoin="miter"/><text x="469" y="621.2" font-size="8.3">CR</text><path d="M491.1 618.2l6 -6l6 6l-6 6z" fill="#b5701f" stroke="#111" stroke-width="1.3" stroke-linejoin="miter"/><text x="506.6" y="621.2" font-size="8.3">PR</text><path d="M527.7 618.2l6 -6l6 6l-6 6z" fill="#f2f03c" stroke="#111" stroke-width="1.3" stroke-linejoin="miter"/><text x="543.6" y="621.2" font-size="8.3">SD</text><path d="M564.5 618.2l6 -6l6 6l-6 6z" fill="#ee2416" stroke="#111" stroke-width="1.3" stroke-linejoin="miter"/><text x="580.8" y="621.2" font-size="8.3">PD</text><rect x="599.6" y="613.6" width="9.3" height="9.3" fill="#fff" stroke="#111" stroke-width="1.3"/><rect x="602.3" y="616.3" width="3.9" height="3.9" fill="#111"/><text x="612.4" y="621.2" font-size="8.3">WBRT</text><path d="M643 618.2l6.2 -6.2l6.2 6.2l-6.2 6.2z" fill="#fff" stroke="#111" stroke-width="1.3" stroke-linejoin="miter"/><path d="M646.2 618.2l3 -3l3 3l-3 3z" fill="#2a1a18"/><text x="658.4" y="621.2" font-size="8.3">HSCT</text><path d="M453.8 636.8H462M465.8 636.8H475.9" stroke="#111" stroke-width="1.3"/><text x="482.9" y="639.8" font-size="8.3">Follow-up</text><path d="M540.4 637.1H558.4M553.6 633.4L558.6 637.1L553.6 640.8" fill="none" stroke="#111" stroke-width="1.2"/><text x="563.8" y="640.1" font-size="8.3">ongoing</text><path d="M627.8 629.2L629.2 635.4L634.8 636.8L629.2 638.2L627.8 644.4L626.4 638.2L620.8 636.8L626.4 635.4z" fill="#000"/><text x="640.6" y="640.1" font-size="8.3">exit</text><circle cx="459.2" cy="655.9" r="6.0" fill="#000"/><text x="471.5" y="657.8" font-size="8.3">ctDNA-CSF postive</text><circle cx="563.8" cy="655.6" r="5.2" fill="none" stroke="#111" stroke-width="1.4"/><text x="575.7" y="657.8" font-size="8.3">ctDNA-CSF negative</text>
</svg></body></html>
